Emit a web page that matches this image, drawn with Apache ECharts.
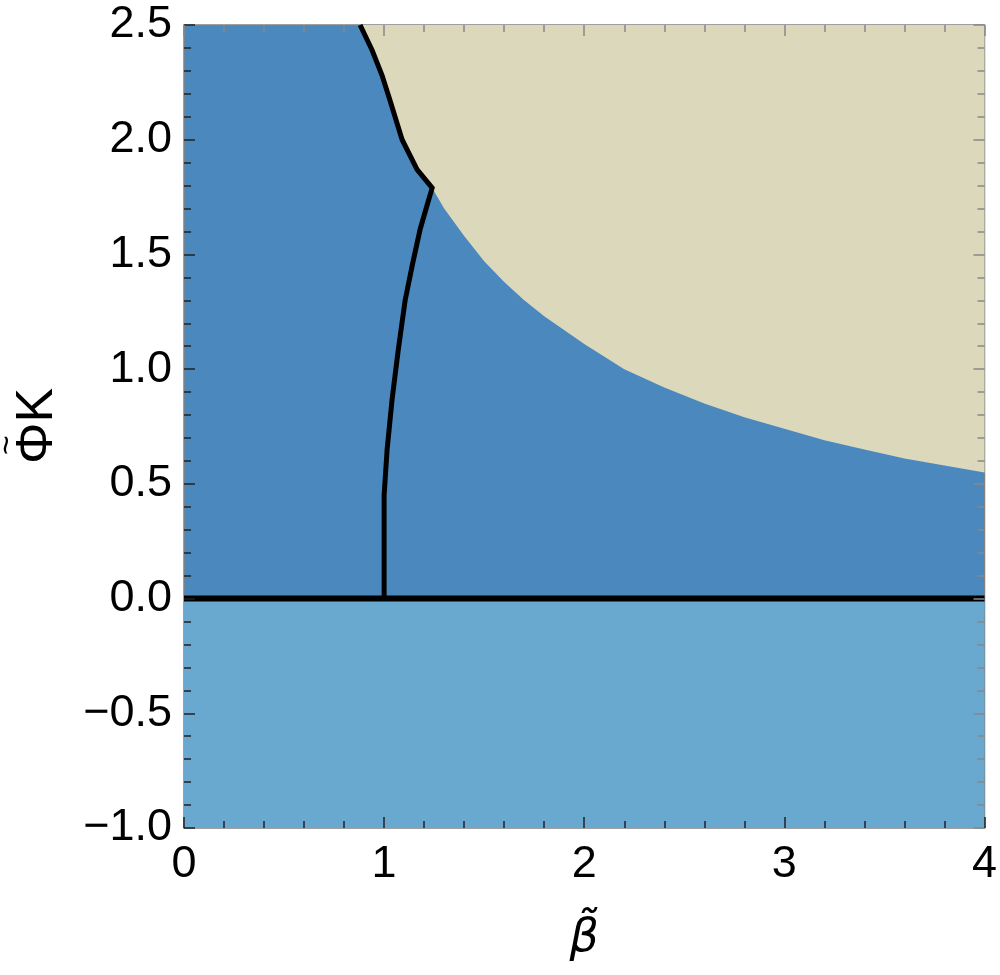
<!DOCTYPE html>
<html lang="en">
<head>
    <meta charset="UTF-8">
    <title>phase diagram</title>
    <script src="https://cdn.jsdelivr.net/npm/echarts@6/dist/echarts.min.js"></script>
    <style>
        html, body { margin: 0; padding: 0; background: #fff; }
        #chart { width: 1000px; height: 975px; }
    </style>
</head>
<body>
    <div id="chart"></div>
    <script>
        // upper black branch (left edge of the beige region)
        let upperBeta = [0.88, 0.94, 0.99, 1.03, 1.09, 1.165, 1.24];
        let upperK = [2.5, 2.39, 2.28, 2.17, 2.0, 1.87, 1.79];

        // lower black branch, from the kink down to the K = 0 line
        let lowerBeta = [1.24, 1.21, 1.18, 1.14, 1.105, 1.07, 1.04, 1.015, 1.0, 1.0];
        let lowerK = [1.79, 1.70, 1.61, 1.45, 1.30, 1.08, 0.87, 0.65, 0.45, 0.0];

        // blue / beige boundary to the right of the kink
        let edgeBeta = [1.3, 1.4, 1.5, 1.6, 1.7, 1.8, 2.0, 2.2, 2.4, 2.6, 2.8, 3.0, 3.2, 3.4, 3.6, 3.8, 4.0];
        let edgeK = [1.70, 1.58, 1.47, 1.38, 1.30, 1.23, 1.11, 1.00, 0.92, 0.85, 0.79, 0.74, 0.69, 0.65, 0.61, 0.58, 0.55];

        // K = 0 line
        let zeroBeta = [0, 4];
        let zeroK = [0, 0];

        let xTicks = [0, 1, 2, 3, 4];
        let yTicks = [-1.0, -0.5, 0.0, 0.5, 1.0, 1.5, 2.0, 2.5];

        let darkBlue = '#4a88bd';
        let lightBlue = '#69a9d0';
        let beige = '#dbd8bb';

        function pairs(xs, ys) {
            return xs.map((x, i) => [x, ys[i]]);
        }

        let beigeData = pairs(upperBeta, upperK).concat(pairs(edgeBeta, edgeK));
        let blackData = pairs(upperBeta, upperK).concat(pairs(lowerBeta, lowerK).slice(1));

        let myEchart = echarts.init(document.querySelector('#chart'));
        let sans = 'Liberation Sans, Arial, sans-serif';
        let labelFont = { fontFamily: sans, fontSize: 45, color: '#000' };

        // ticks on all four sides, pointing into the frame, drawn above the coloured regions
        function tickAxis(color) {
            return {
                z: 10,
                axisLine: { show: false, onZero: false },
                axisTick: { inside: true, length: 11, lineStyle: { color: color, width: 1.5 } },
                minorTick: { show: true, splitNumber: 5, length: 7, lineStyle: { color: color, width: 1.5 } },
                splitLine: { show: false }
            };
        }

        let option = {
            animation: false,
            grid: {
                left: 184, right: 13, top: 25, bottom: 147,
                show: true,
                backgroundColor: darkBlue,
                borderColor: '#808080',
                borderWidth: 1.5
            },
            xAxis: [
                Object.assign({
                    type: 'value', min: 0, max: 4, interval: 1,
                    position: 'bottom',
                    axisLabel: Object.assign({ margin: 14, formatter: v => xTicks.includes(v) ? String(v) : '' }, labelFont),
                    name: '\u03B2\u0303',
                    nameLocation: 'middle',
                    nameGap: 88,
                    nameTextStyle: { fontFamily: 'DejaVu Sans, sans-serif', fontSize: 46, fontStyle: 'italic', color: '#000' }
                }, tickAxis('#222')),
                Object.assign({
                    type: 'value', min: 0, max: 4, interval: 1,
                    position: 'top',
                    axisLabel: { show: false }
                }, tickAxis('#888'))
            ],
            yAxis: [
                Object.assign({
                    type: 'value', min: -1, max: 2.5, interval: 0.5,
                    position: 'left',
                    axisLabel: Object.assign({
                        margin: 12,
                        formatter: v => yTicks.includes(v) ? v.toFixed(1).replace('-', '\u2212') : ''
                    }, labelFont)
                }, tickAxis('#222')),
                Object.assign({
                    type: 'value', min: -1, max: 2.5, interval: 0.5,
                    position: 'right',
                    axisLabel: { show: false }
                }, tickAxis('#888'))
            ],
            graphic: [
                {
                    // y axis title, rotated, with the tilde set over the Phi
                    type: 'group',
                    x: 38, y: 426,
                    rotation: Math.PI / 2,
                    children: [
                        {
                            type: 'text',
                            style: { text: '\u03A6K', font: '52px ' + sans, fill: '#000', textAlign: 'center', textVerticalAlign: 'middle' }
                        },
                        {
                            type: 'text',
                            x: -19, y: -30,
                            style: { text: '~', font: '34px ' + sans, fill: '#000', textAlign: 'center', textVerticalAlign: 'middle' }
                        }
                    ]
                }
            ],
            series: [
                {
                    // beige region above the boundary
                    type: 'line',
                    xAxisIndex: 0, yAxisIndex: 0,
                    data: beigeData,
                    symbol: 'none',
                    lineStyle: { width: 0 },
                    areaStyle: { origin: 'end', color: beige, opacity: 1 },
                    z: 1
                },
                {
                    // light blue region below K = 0 and the K = 0 line
                    type: 'line',
                    xAxisIndex: 0, yAxisIndex: 0,
                    data: pairs(zeroBeta, zeroK),
                    symbol: 'none',
                    lineStyle: { color: '#000', width: 6 },
                    areaStyle: { origin: 'start', color: lightBlue, opacity: 1 },
                    z: 3
                },
                {
                    // black phase line
                    type: 'line',
                    xAxisIndex: 0, yAxisIndex: 0,
                    data: blackData,
                    symbol: 'none',
                    lineStyle: { color: '#000', width: 5, join: 'miter' },
                    z: 4
                }
            ]
        };
        myEchart.setOption(option);
    </script>
</body>
</html>
